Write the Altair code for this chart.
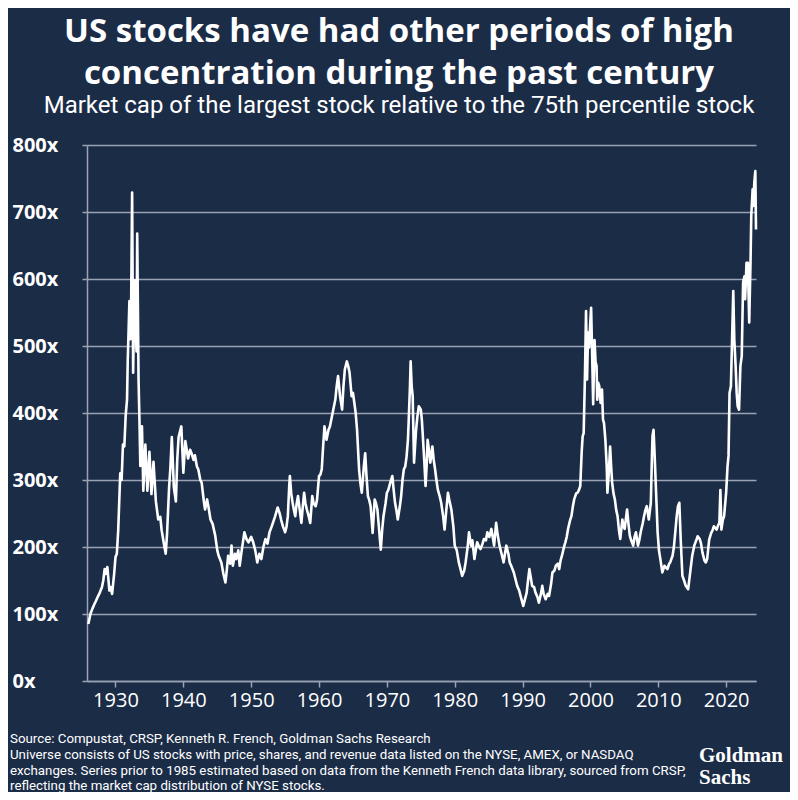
import altair as alt
import pandas as pd

years = [
    1926.0, 1926.3, 1926.6, 1926.9, 1927.1, 1927.4, 1927.6, 1928.0, 1928.2, 1928.4, 1928.6, 1928.8,
    1929.1, 1929.3, 1929.5, 1929.8, 1930.0, 1930.2, 1930.4, 1930.7, 1930.9, 1931.1, 1931.3, 1931.5,
    1931.7, 1931.8, 1932.05, 1932.2, 1932.3, 1932.45, 1932.6, 1932.8, 1933.0, 1933.1, 1933.2, 1933.4,
    1933.55, 1933.66, 1933.9, 1934.1, 1934.4, 1934.7, 1935.0, 1935.3, 1935.6, 1935.95, 1936.3, 1936.6,
    1936.8, 1937.2, 1937.4, 1937.6, 1937.9, 1938.1, 1938.3, 1938.6, 1938.9, 1939.1, 1939.3, 1939.7,
    1940.0, 1940.3, 1940.7, 1941.0, 1941.2, 1941.5, 1941.7, 1942.0, 1942.2, 1942.5, 1942.7, 1943.0,
    1943.2, 1943.5, 1943.7, 1944.0, 1944.3, 1944.7, 1945.0, 1945.2, 1945.6, 1945.9, 1946.2, 1946.4,
    1946.6, 1946.9, 1947.1, 1947.3, 1947.6, 1947.8, 1948.1, 1948.3, 1948.6, 1949.0, 1949.3, 1949.6,
    1950.0, 1950.3, 1950.6, 1950.9, 1951.2, 1951.5, 1951.8, 1952.1, 1952.4, 1952.7, 1953.0, 1953.2,
    1953.5, 1953.9, 1954.2, 1954.4, 1954.7, 1955.0, 1955.2, 1955.4, 1955.6, 1955.7, 1955.9, 1956.1,
    1956.3, 1956.5, 1956.7, 1956.9, 1957.1, 1957.4, 1957.6, 1957.8, 1958.0, 1958.2, 1958.5, 1958.7,
    1959.0, 1959.2, 1959.5, 1959.7, 1960.0, 1960.2, 1960.4, 1960.6, 1960.8, 1961.1, 1961.4, 1961.6,
    1961.8, 1962.0, 1962.2, 1962.4, 1962.6, 1962.8, 1963.1, 1963.4, 1963.6, 1963.8, 1964.1, 1964.3,
    1964.5, 1964.8, 1965.0, 1965.2, 1965.4, 1965.6, 1965.9, 1966.1, 1966.3, 1966.6, 1966.8, 1967.0,
    1967.2, 1967.4, 1967.6, 1967.9, 1968.2, 1968.4, 1968.6, 1968.9, 1969.1, 1969.3, 1969.5, 1969.8,
    1970.0, 1970.2, 1970.5, 1970.8, 1971.0, 1971.2, 1971.4, 1971.6, 1971.9, 1972.1, 1972.3, 1972.5,
    1972.7, 1972.9, 1973.1, 1973.2, 1973.4, 1973.5, 1973.65, 1973.8, 1974.0, 1974.15, 1974.3, 1974.5,
    1974.7, 1975.0, 1975.15, 1975.3, 1975.5, 1975.7, 1975.85, 1976.0, 1976.2, 1976.4, 1976.7, 1976.9,
    1977.1, 1977.3, 1977.5, 1977.8, 1978.0, 1978.3, 1978.5, 1978.8, 1979.0, 1979.2, 1979.5, 1979.8,
    1980.0, 1980.3, 1980.6, 1980.9, 1981.1, 1981.4, 1981.6, 1981.9, 1982.1, 1982.4, 1982.6, 1982.9,
    1983.1, 1983.3, 1983.6, 1983.8, 1984.1, 1984.3, 1984.6, 1984.8, 1985.1, 1985.4, 1985.8, 1986.1,
    1986.3, 1986.6, 1986.9, 1987.2, 1987.4, 1987.6, 1987.9, 1988.1, 1988.4, 1988.7, 1989.0, 1989.2,
    1989.5, 1989.7, 1990.1, 1990.3, 1990.6, 1990.8, 1991.0, 1991.2, 1991.4, 1991.7, 1991.9, 1992.2,
    1992.4, 1992.7, 1992.9, 1993.1, 1993.4, 1993.7, 1993.9, 1994.2, 1994.4, 1994.7, 1994.9, 1995.2,
    1995.4, 1995.6, 1995.8, 1996.1, 1996.3, 1996.5, 1996.7, 1997.0, 1997.2, 1997.4, 1997.6, 1997.9,
    1998.1, 1998.3, 1998.5, 1998.7, 1998.85, 1999.0, 1999.2, 1999.35, 1999.5, 1999.65, 1999.8, 2000.0,
    2000.1, 2000.25, 2000.4, 2000.6, 2000.75, 2000.9, 2001.0, 2001.15, 2001.3, 2001.5, 2001.7, 2001.85,
    2002.0, 2002.2, 2002.4, 2002.5, 2002.7, 2002.9, 2003.05, 2003.2, 2003.4, 2003.6, 2003.8, 2004.0,
    2004.2, 2004.4, 2004.7, 2004.9, 2005.05, 2005.2, 2005.4, 2005.6, 2005.8, 2006.0, 2006.3, 2006.5,
    2006.7, 2007.0, 2007.2, 2007.4, 2007.7, 2007.9, 2008.1, 2008.3, 2008.6, 2008.9, 2009.05, 2009.15,
    2009.3, 2009.45, 2009.6, 2009.9, 2010.1, 2010.3, 2010.6, 2010.9, 2011.1, 2011.35, 2011.6, 2011.75,
    2012.1, 2012.3, 2012.5, 2012.7, 2012.9, 2013.1, 2013.3, 2013.55, 2013.8, 2014.05, 2014.4, 2014.7,
    2015.0, 2015.3, 2015.6, 2015.8, 2016.1, 2016.3, 2016.5, 2016.8, 2017.0, 2017.2, 2017.5, 2017.8,
    2018.0, 2018.2, 2018.6, 2018.8, 2019.0, 2019.15, 2019.3, 2019.5, 2019.7, 2020.0, 2020.2, 2020.35,
    2020.5, 2020.7, 2020.85, 2021.05, 2021.2, 2021.4, 2021.55, 2021.7, 2021.9, 2022.1, 2022.3, 2022.5,
    2022.7, 2022.8, 2023.0, 2023.2, 2023.4, 2023.6, 2023.7, 2023.9, 2024.0, 2024.15, 2024.3, 2024.4,
]

ratios = [
    85, 100, 108, 115, 119, 126, 130, 140, 150, 167, 160, 170,
    135, 140, 130, 160, 185, 190, 225, 310, 300, 353, 350, 396,
    420, 476, 567, 510, 556, 729, 460, 598, 520, 492, 668, 449,
    380, 321, 380, 284, 353, 284, 342, 279, 327, 268, 241, 245,
    225, 201, 190, 220, 289, 320, 364, 289, 268, 330, 364, 380,
    311, 358, 332, 345, 340, 330, 337, 320, 316, 300, 296, 270,
    256, 271, 260, 241, 235, 217, 195, 187, 177, 160, 147, 165,
    187, 175, 202, 172, 190, 182, 195, 172, 195, 222, 212, 207,
    215, 207, 195, 177, 190, 182, 200, 212, 205, 222, 230, 236,
    245, 259, 250, 241, 230, 222, 230, 246, 290, 306, 280, 266,
    255, 246, 265, 276, 260, 236, 260, 281, 265, 256, 245, 236,
    276, 265, 261, 270, 306, 308, 316, 350, 380, 360, 375, 380,
    390, 400, 410, 420, 440, 455, 425, 405, 440, 465, 477, 470,
    460, 425, 430, 415, 400, 375, 316, 295, 281, 320, 340, 305,
    276, 270, 261, 221, 271, 265, 256, 220, 196, 225, 246, 265,
    281, 285, 296, 306, 285, 266, 255, 241, 260, 276, 300, 316,
    320, 335, 360, 385, 440, 477, 440, 425, 326, 350, 375, 395,
    410, 405, 390, 365, 330, 291, 320, 360, 345, 326, 350, 330,
    316, 300, 286, 275, 266, 245, 226, 260, 281, 270, 256, 230,
    202, 195, 177, 165, 157, 165, 177, 200, 222, 202, 210, 182,
    195, 207, 200, 197, 205, 212, 210, 222, 215, 227, 202, 236,
    220, 202, 190, 177, 190, 202, 190, 177, 170, 162, 150, 142,
    135, 127, 112, 120, 132, 150, 167, 155, 142, 140, 132, 125,
    117, 130, 142, 130, 122, 130, 127, 145, 162, 165, 172, 175,
    167, 180, 187, 200, 207, 215, 227, 240, 246, 260, 271, 280,
    281, 285, 291, 340, 365, 370, 460, 552, 450, 520, 498, 540,
    557, 488, 413, 509, 477, 470, 420, 445, 440, 415, 435, 390,
    385, 360, 320, 281, 310, 350, 320, 296, 280, 271, 255, 246,
    225, 212, 241, 230, 227, 240, 256, 235, 217, 210, 202, 215,
    222, 202, 210, 222, 235, 246, 255, 261, 241, 266, 330, 366,
    375, 340, 301, 222, 195, 182, 162, 172, 170, 167, 175, 177,
    187, 200, 222, 245, 261, 266, 212, 157, 150, 142, 137, 162,
    187, 202, 210, 216, 212, 205, 192, 180, 177, 182, 211, 221,
    225, 231, 226, 232, 236, 285, 226, 240, 246, 281, 320, 336,
    430, 440, 500, 582, 510, 470, 430, 410, 405, 470, 485, 595,
    604, 570, 624, 624, 535, 629, 694, 734, 709, 744, 761, 674,
]

tick_years = [1930, 1940, 1950, 1960, 1970, 1980, 1990, 2000, 2010, 2020]
y_ticks = [0, 100, 200, 300, 400, 500, 600, 700, 800]

title_lines = [
    "US stocks have had other periods of high",
    "concentration during the past century",
]
subtitle = "Market cap of the largest stock relative to the 75th percentile stock"
footer_lines = [
    "Source: Compustat, CRSP, Kenneth R. French, Goldman Sachs Research",
    "Universe consists of US stocks with price, shares, and revenue data listed on the NYSE, AMEX, or NASDAQ",
    "exchanges. Series prior to 1985 estimated based on data from the Kenneth French data library, sourced from CRSP,",
    "reflecting the market cap distribution of NYSE stocks.",
]
logo_lines = ["Goldman", "Sachs"]

BG = "#1b2c47"
GRID = "#9aa3b3"

df = pd.DataFrame({"year": years, "ratio": ratios})

line = alt.Chart(df).mark_line(color="white", strokeWidth=2.6, strokeJoin="round").encode(
    x=alt.X(
        "year:Q",
        scale=alt.Scale(domain=[1925.8, 2024.4], nice=False, zero=False),
        axis=alt.Axis(
            values=tick_years, format="d", title=None, grid=False,
            labelColor="white", labelFontSize=20, labelFont="Open Sans",
            tickColor=GRID, domainColor=GRID, tickSize=6, tickWidth=1.5,
            domainWidth=1.5, labelPadding=3, labelFlush=False,
        ),
    ),
    y=alt.Y(
        "ratio:Q",
        scale=alt.Scale(domain=[0, 800], nice=False),
        axis=alt.Axis(
            values=y_ticks, labelExpr="datum.value + 'x'", title=None,
            grid=True, gridColor=GRID, gridWidth=1.5,
            labelAlign="left", labelPadding=70, tickSize=5, tickColor=GRID,
            tickWidth=1.5, domainColor=GRID, domainWidth=1.5,
            labelFontWeight="bold", labelFontSize=20, labelFont="Open Sans",
            labelColor="white",
        ),
    ),
)


def text_layer(txt, x, y, size, weight="normal", font="Open Sans", align="left"):
    return alt.Chart(pd.DataFrame({"t": [txt]})).mark_text(
        align=align, baseline="alphabetic", color="white", fontSize=size,
        fontWeight=weight, font=font,
    ).encode(text="t:N", x=alt.value(x), y=alt.value(y))


layers = [line]
layers.append(text_layer(title_lines[0], 312, -103, 33, "bold", align="center"))
layers.append(text_layer(title_lines[1], 312, -61, 33, "bold", align="center"))
layers.append(text_layer(subtitle, 312, -32, 24, "normal", font="Roboto", align="center"))
for i, ln in enumerate(footer_lines):
    layers.append(text_layer(ln, -77, 598 + i * 15.8, 13.3, "normal", font="Roboto"))
layers.append(text_layer(logo_lines[0], 612, 617, 21, "bold", font="Liberation Serif"))
layers.append(text_layer(logo_lines[1], 612, 639, 21, "bold", font="Liberation Serif"))

chart = alt.layer(*layers).properties(
    width=669, height=536,
    padding={"left": 79, "top": 137, "right": 34, "bottom": 111},
    autosize="none",
    background=BG,
).configure_view(stroke=None)

chart.save("out.html", embed_options={"renderer": "svg", "actions": False})
